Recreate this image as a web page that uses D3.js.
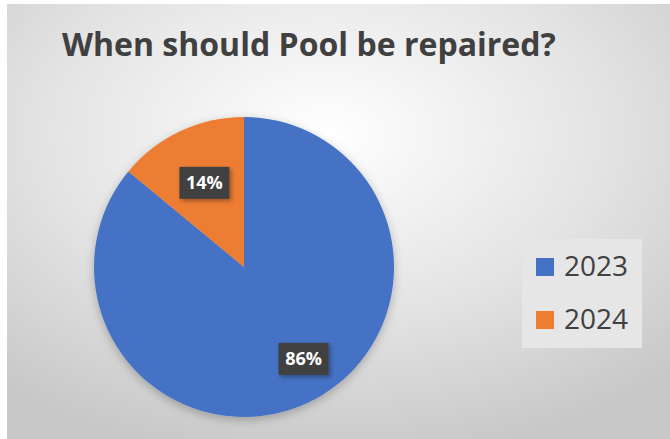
<!DOCTYPE html>
<html>
<head>
<meta charset="utf-8">
<script src="https://cdn.jsdelivr.net/npm/d3@7"></script>
<style>
  html, body { margin: 0; padding: 0; background: #fff; }
  svg { display: block; }
</style>
</head>
<body>
<div id="grafico"></div>
<script>
// dados do gráfico
const categorias = ["2023", "2024"];
const valores = [86, 14];
const rotulos = ["86%", "14%"];
const cores = ["#4472C4", "#ED7D31"];
const titulo = "When should Pool be repaired?";

const largura = 670;
const altura = 439;

const svg = d3.select("#grafico").append("svg")
    .attr("width", largura)
    .attr("height", altura);

const defs = svg.append("defs");

// fundo com gradiente radial
const grad = defs.append("radialGradient")
    .attr("id", "fundo")
    .attr("cx", "48%").attr("cy", "30%").attr("r", "75%");
grad.append("stop").attr("offset", "0%").attr("stop-color", "#ffffff");
grad.append("stop").attr("offset", "55%").attr("stop-color", "#e4e4e4");
grad.append("stop").attr("offset", "100%").attr("stop-color", "#c8c8c8");

// sombra suave
const sombra = defs.append("filter").attr("id", "sombra")
    .attr("x", "-20%").attr("y", "-20%").attr("width", "140%").attr("height", "140%");
sombra.append("feDropShadow")
    .attr("dx", 0).attr("dy", 3).attr("stdDeviation", 5)
    .attr("flood-color", "#000").attr("flood-opacity", 0.25);

const sombraRotulo = defs.append("filter").attr("id", "sombraRotulo")
    .attr("x", "-30%").attr("y", "-30%").attr("width", "160%").attr("height", "160%");
sombraRotulo.append("feDropShadow")
    .attr("dx", 2).attr("dy", 2).attr("stdDeviation", 2)
    .attr("flood-color", "#000").attr("flood-opacity", 0.35);

svg.append("rect")
    .attr("x", 7).attr("y", 4)
    .attr("width", largura - 7).attr("height", altura - 4)
    .attr("fill", "url(#fundo)");

// título
const tituloTxt = svg.append("text")
    .attr("x", 62)
    .attr("y", 56)
    .attr("fill", "#404040")
    .style("font-family", "'Open Sans', 'Noto Sans', sans-serif")
    .style("font-weight", "bold")
    .style("font-size", "30px")
    .text(titulo);
// ajustar largura ao original (~494px)
const w0 = tituloTxt.node().getComputedTextLength();
tituloTxt.style("font-size", (30 * 494 / w0).toFixed(2) + "px");

// pizza
const cx = 244, cy = 267, raio = 150;
const pie = d3.pie().sort(null).value(d => d);
const arcos = pie(valores);
const arc = d3.arc().innerRadius(0).outerRadius(raio);

const g = svg.append("g").attr("transform", `translate(${cx},${cy})`);
g.append("g").attr("filter", "url(#sombra)")
    .selectAll("path")
    .data(arcos)
    .enter()
    .append("path")
    .attr("d", arc)
    .attr("fill", (d, i) => cores[i]);

// rótulos de dados (posição "melhor ajuste" aproximada)
const fracRaio = [0.73, 0.62];
const desvioAng = [-0.135, 0];
const caixaL = 50, caixaA = 32;
const rot = g.selectAll("g.rotulo")
    .data(arcos)
    .enter()
    .append("g")
    .attr("class", "rotulo")
    .attr("transform", (d, i) => {
        const r = raio * fracRaio[i];
        const [x, y] = d3.arc().innerRadius(r).outerRadius(r)
            .startAngle(d.startAngle + desvioAng[i])
            .endAngle(d.endAngle + desvioAng[i])
            .centroid();
        return `translate(${x},${y})`;
    });
rot.append("rect")
    .attr("x", -caixaL / 2).attr("y", -caixaA / 2)
    .attr("width", caixaL).attr("height", caixaA)
    .attr("fill", "#404040")
    .attr("filter", "url(#sombraRotulo)");
rot.append("text")
    .attr("text-anchor", "middle")
    .attr("dy", "0.36em")
    .attr("fill", "#fff")
    .style("font-family", "'Open Sans', 'Noto Sans', sans-serif")
    .style("font-weight", "bold")
    .style("font-size", "18px")
    .text((d, i) => rotulos[i]);

// legenda
const leg = svg.append("g");
leg.append("rect")
    .attr("x", 522).attr("y", 239)
    .attr("width", 120).attr("height", 109)
    .attr("fill", "#e6e6e6");
const itens = leg.selectAll("g.item")
    .data(categorias)
    .enter()
    .append("g")
    .attr("class", "item")
    .attr("transform", (d, i) => `translate(536,${258 + i * 53})`);
itens.append("rect")
    .attr("width", 18).attr("height", 18)
    .attr("fill", (d, i) => cores[i]);
itens.append("text")
    .attr("x", 28).attr("y", 18)
    .attr("fill", "#404040")
    .style("font-family", "'Open Sans', 'Noto Sans', sans-serif")
    .style("font-size", "28px")
    .text(d => d);
</script>
</body>
</html>
